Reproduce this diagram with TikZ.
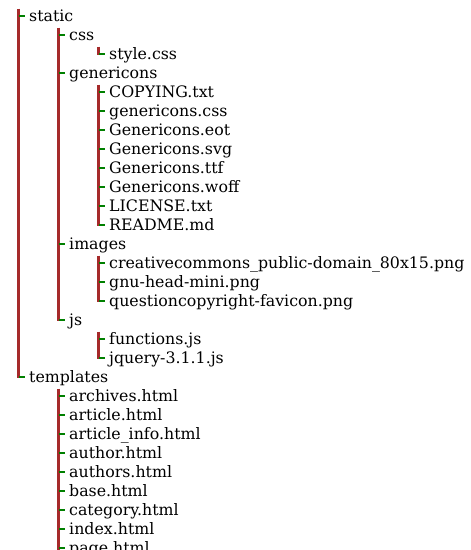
\documentclass[tikz,border=0pt]{standalone}
\usepackage{fontspec}
\setmainfont{DejaVu Serif}
\definecolor{treered}{HTML}{A52A2A}
\definecolor{treegreen}{HTML}{008000}
\newcommand{\tk}[1]{\draw[tickline] ([xshift=-9.6pt]#1.west) -- ([xshift=-4pt]#1.west);}
\newcommand{\vl}[2]{\draw[vline] ([xshift=-10.8pt,yshift=7.5pt]#1.west) -- ([xshift=-10.8pt,yshift=-1.2pt]#2.west);}
\begin{document}
\begin{tikzpicture}[x=1pt,y=1pt,
  file/.style={anchor=west, inner sep=0pt, text height=13pt, text depth=3pt, font=\fontsize{15.8}{19}\selectfont},
  tickline/.style={draw=treegreen, line width=2.4pt},
  vline/.style={draw=treered, line width=2.8pt}]
\useasboundingbox (0,0) rectangle (471,-550);
\clip (0,0) rectangle (471,-550);
\node[file] (static) at (29,-16) {static};
\node[file] (css) at (69,-35) {css};
\node[file] (stylecss) at (109,-54) {style.css};
\node[file] (genericons) at (69,-73) {genericons};
\node[file] (copying) at (109,-92) {COPYING.txt};
\node[file] (gcss) at (109,-111) {genericons.css};
\node[file] (geot) at (109,-130) {Genericons.eot};
\node[file] (gsvg) at (109,-149) {Genericons.svg};
\node[file] (gttf) at (109,-168) {Genericons.ttf};
\node[file] (gwoff) at (109,-187) {Genericons.woff};
\node[file] (license) at (109,-206) {LICENSE.txt};
\node[file] (readme) at (109,-225) {README.md};
\node[file] (images) at (69,-244) {images};
\node[file] (cc) at (109,-263) {creativecommons\_public-domain\_80x15.png};
\node[file] (gnu) at (109,-282) {gnu-head-mini.png};
\node[file] (qc) at (109,-301) {questioncopyright-favicon.png};
\node[file] (js) at (69,-320) {js};
\node[file] (functions) at (109,-339) {functions.js};
\node[file] (jquery) at (109,-358) {jquery-3.1.1.js};
\node[file] (templates) at (29,-377) {templates};
\node[file] (archives) at (69,-396) {archives.html};
\node[file] (article) at (69,-415) {article.html};
\node[file] (articleinfo) at (69,-434) {article\_info.html};
\node[file] (author) at (69,-453) {author.html};
\node[file] (authors) at (69,-472) {authors.html};
\node[file] (base) at (69,-491) {base.html};
\node[file] (category) at (69,-510) {category.html};
\node[file] (index) at (69,-529) {index.html};
\node[file] (page) at (69,-548) {page.html};
\coordinate (pageend) at ([yshift=-12pt]page.west);
% vertical lines
\vl{static}{templates}
\vl{css}{js}
\vl{stylecss}{stylecss}
\vl{copying}{readme}
\vl{cc}{qc}
\vl{functions}{jquery}
\draw[vline] ([xshift=-10.8pt,yshift=7.5pt]archives.west) -- ([xshift=-10.8pt]pageend);
% ticks
\foreach \n in {static,css,stylecss,genericons,copying,gcss,geot,gsvg,gttf,gwoff,license,readme,images,cc,gnu,qc,js,functions,jquery,templates,archives,article,articleinfo,author,authors,base,category,index,page}{\tk{\n}}
\end{tikzpicture}
\end{document}
